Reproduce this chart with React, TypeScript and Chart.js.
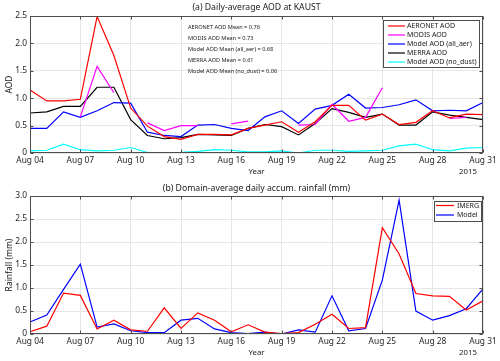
import React, { useEffect, useRef } from "react";
import { Chart, registerables } from "chart.js";

Chart.register(...registerables);

const days: string[] = [
  "Aug 04", "Aug 05", "Aug 06", "Aug 07", "Aug 08", "Aug 09", "Aug 10",
  "Aug 11", "Aug 12", "Aug 13", "Aug 14", "Aug 15", "Aug 16", "Aug 17",
  "Aug 18", "Aug 19", "Aug 20", "Aug 21", "Aug 22", "Aug 23", "Aug 24",
  "Aug 25", "Aug 26", "Aug 27", "Aug 28", "Aug 29", "Aug 30", "Aug 31",
];

const aeronetAod = [1.15, 0.95, 0.95, 0.98, 2.49, 1.78, 0.82, 0.49, 0.30, 0.25, 0.34, 0.34, 0.33, 0.45, 0.51, 0.57, 0.38, 0.57, 0.87, 0.87, 0.60, 0.71, 0.52, 0.56, 0.77, 0.64, 0.71, 0.70];
const modisAod = [null, null, null, 0.66, 1.58, 1.10, null, 0.55, 0.41, 0.50, 0.50, null, 0.53, 0.58, null, null, 0.51, 0.52, 0.89, 0.58, 0.65, 1.19, null, null, null, 0.63, 0.65, null];
const modelAllAer = [0.45, 0.45, 0.75, 0.65, 0.77, 0.92, 0.91, 0.38, 0.32, 0.30, 0.51, 0.52, 0.45, 0.41, 0.66, 0.77, 0.54, 0.80, 0.87, 1.07, 0.82, 0.83, 0.88, 0.97, 0.77, 0.78, 0.77, 0.92];
const merraAod = [0.73, 0.75, 0.85, 0.85, 1.20, 1.20, 0.61, 0.32, 0.26, 0.28, 0.34, 0.33, 0.32, 0.45, 0.52, 0.48, 0.33, 0.54, 0.81, 0.74, 0.65, 0.71, 0.51, 0.51, 0.75, 0.69, 0.65, 0.61];
const modelNoDust = [0.04, 0.05, 0.16, 0.06, 0.04, 0.05, 0.10, 0.01, 0.00, 0.01, 0.03, 0.06, 0.05, 0.02, 0.02, 0.04, 0.00, 0.05, 0.05, 0.03, 0.04, 0.05, 0.13, 0.16, 0.06, 0.04, 0.09, 0.10];

const imergRain = [0.05, 0.17, 0.89, 0.84, 0.11, 0.30, 0.09, 0.06, 0.57, 0.12, 0.46, 0.30, 0.05, 0.20, 0.04, 0.01, 0.03, 0.21, 0.43, 0.12, 0.14, 2.31, 1.74, 0.88, 0.83, 0.82, 0.52, 0.72];
const modelRain = [0.26, 0.41, 0.97, 1.52, 0.15, 0.22, 0.07, 0.03, 0.03, 0.30, 0.34, 0.11, 0.03, 0.01, 0.04, 0.00, 0.09, 0.04, 0.83, 0.07, 0.12, 1.17, 2.91, 0.50, 0.30, 0.40, 0.55, 0.98];

const meanTexts = [
  "AERONET AOD Mean = 0.76",
  "MODIS AOD Mean = 0.73",
  "Model AOD Mean (all_aer) = 0.68",
  "MERRA AOD Mean = 0.61",
  "Model AOD Mean (no_dust) = 0.06",
];

const FONT = "'Noto Sans', 'Open Sans', sans-serif";
const AXIS = "#4d4d4d";
const GRID = "#e6e6e6";

type Extra = {
  title: string;
  ylabel: string;
  titleY: number;
  yearY: number;
  legendBox: [number, number, number, number];
  legendRowY0: number;
  legendRowStep: number;
  legendLine: [number, number];
  legendTextX: number;
  legendFont: number;
  notes?: string[];
};

function makeDecorPlugin(extra: Extra) {
  return {
    id: "decor",
    afterDraw(chart: any) {
      const ctx = chart.ctx as CanvasRenderingContext2D;
      const a = chart.chartArea;
      const xs = chart.scales.x;
      const ys = chart.scales.y;
      ctx.save();
      ctx.strokeStyle = AXIS;
      ctx.lineWidth = 1;
      const L = Math.round(a.left) + 0.5, R = Math.round(a.right) - 0.5;
      const T = Math.round(a.top) + 0.5, B = Math.round(a.bottom) - 0.5;
      ctx.strokeRect(L, T, R - L, B - T);
      ctx.beginPath();
      for (let i = 0; i < days.length; i += 3) {
        const x = Math.round(xs.getPixelForValue(i)) + 0.5;
        ctx.moveTo(x, B); ctx.lineTo(x, B - 3);
        ctx.moveTo(x, T); ctx.lineTo(x, T + 3);
      }
      ys.ticks.forEach((t: any) => {
        const y = Math.round(ys.getPixelForValue(t.value)) + 0.5;
        ctx.moveTo(L, y); ctx.lineTo(L + 3, y);
        ctx.moveTo(R, y); ctx.lineTo(R - 3, y);
      });
      ctx.stroke();

      const cx = (a.left + a.right) / 2;
      ctx.fillStyle = "#1a1a1a";
      ctx.textAlign = "center";
      ctx.textBaseline = "middle";
      ctx.font = `8.7px ${FONT}`;
      ctx.fillText(extra.title, cx, extra.titleY);
      ctx.font = `7.8px ${FONT}`;
      ctx.fillText("Year", cx, extra.yearY);
      ctx.fillText("2015", a.right - 15, extra.yearY);
      ctx.save();
      ctx.translate(9.5, (a.top + a.bottom) / 2);
      ctx.rotate(-Math.PI / 2);
      ctx.font = `8.5px ${FONT}`;
      ctx.fillText(extra.ylabel, 0, 0);
      ctx.restore();

      if (extra.notes) {
        ctx.textAlign = "left";
        ctx.font = `5.6px ${FONT}`;
        ctx.fillStyle = "#222";
        extra.notes.forEach((t, k) => ctx.fillText(t, 188, 27 + k * 11));
      }

      const [bx, by, bw, bh] = extra.legendBox;
      ctx.fillStyle = "#fff";
      ctx.fillRect(bx, by, bw, bh);
      ctx.strokeStyle = AXIS;
      ctx.lineWidth = 1;
      ctx.strokeRect(bx + 0.5, by + 0.5, bw, bh);
      ctx.font = `${extra.legendFont}px ${FONT}`;
      ctx.textAlign = "left";
      chart.data.datasets.forEach((ds: any, k: number) => {
        const y = extra.legendRowY0 + k * extra.legendRowStep;
        ctx.strokeStyle = ds.borderColor;
        ctx.lineWidth = 1.2;
        ctx.beginPath();
        ctx.moveTo(extra.legendLine[0], y);
        ctx.lineTo(extra.legendLine[1], y);
        ctx.stroke();
        ctx.fillStyle = "#1a1a1a";
        ctx.fillText(ds.label, extra.legendTextX, y);
      });
      ctx.restore();
    },
  };
}

function baseOptions(yMax: number, bottom: number) {
  return {
    responsive: false,
    animation: false as const,
    events: [],
    layout: { padding: { left: 0, right: 17, top: 16, bottom: 0 } },
    plugins: { legend: { display: false }, title: { display: false }, tooltip: { enabled: false } },
    elements: { point: { radius: 0 }, line: { tension: 0, borderWidth: 1.2 } },
    scales: {
      x: {
        type: "category" as const,
        offset: false,
        grid: {
          color: (c: any) => (c.index % 3 === 0 ? GRID : "rgba(0,0,0,0)"),
          drawTicks: false,
        },
        border: { display: false },
        ticks: {
          autoSkip: false,
          maxRotation: 0,
          padding: 3,
          color: "#262626",
          font: { family: FONT, size: 8.4 },
          callback: (_v: any, i: number) => (i % 3 === 0 ? days[i] : ""),
        },
        afterFit: (s: any) => { s.height = bottom; },
      },
      y: {
        min: 0,
        max: yMax,
        grid: { color: GRID, drawTicks: false },
        border: { display: false },
        ticks: {
          stepSize: 0.5,
          padding: 3,
          color: "#262626",
          font: { family: FONT, size: 8.4 },
        },
        afterFit: (s: any) => { s.width = 30; },
      },
    },
  };
}

function AodChart() {
  const ref = useRef<HTMLCanvasElement>(null);
  useEffect(() => {
    const ch = new Chart(ref.current as HTMLCanvasElement, {
      type: "line",
      data: {
        labels: days,
        datasets: [
          { label: "AERONET AOD", data: aeronetAod, borderColor: "#ff0000" },
          { label: "MODIS AOD", data: modisAod, borderColor: "#ff00ff" },
          { label: "Model AOD (all_aer)", data: modelAllAer, borderColor: "#0000ff" },
          { label: "MERRA AOD", data: merraAod, borderColor: "#000000" },
          { label: "Model AOD (no_dust)", data: modelNoDust, borderColor: "#00ffff" },
        ],
      },
      options: baseOptions(2.5, 27) as any,
      plugins: [
        makeDecorPlugin({
          title: "(a) Daily-average AOD at KAUST",
          ylabel: "AOD",
          titleY: 7.5,
          yearY: 172,
          legendBox: [383, 20, 96, 47],
          legendRowY0: 26,
          legendRowStep: 9,
          legendLine: [388, 405],
          legendTextX: 407,
          legendFont: 7,
          notes: meanTexts,
        }),
      ],
    });
    return () => ch.destroy();
  }, []);
  return <canvas ref={ref} width={500} height={180} style={{ display: "block" }} />;
}

function RainChart() {
  const ref = useRef<HTMLCanvasElement>(null);
  useEffect(() => {
    const ch = new Chart(ref.current as HTMLCanvasElement, {
      type: "line",
      data: {
        labels: days,
        datasets: [
          { label: "IMERG", data: imergRain, borderColor: "#ff0000" },
          { label: "Model", data: modelRain, borderColor: "#0000ff" },
        ],
      },
      options: baseOptions(3, 27) as any,
      plugins: [
        makeDecorPlugin({
          title: "(b) Domain-average daily accum. rainfall (mm)",
          ylabel: "Rainfall (mm)",
          titleY: 8.7,
          yearY: 173,
          legendBox: [434, 21, 47, 20],
          legendRowY0: 25.5,
          legendRowStep: 9.5,
          legendLine: [436, 454],
          legendTextX: 457,
          legendFont: 7,
        }),
      ],
    });
    return () => ch.destroy();
  }, []);
  return <canvas ref={ref} width={500} height={181} style={{ display: "block" }} />;
}

export default function App() {
  return (
    <div style={{ position: "absolute", left: 0, top: 0, width: 500, height: 361, background: "#fff" }}>
      <AodChart />
      <RainChart />
    </div>
  );
}
